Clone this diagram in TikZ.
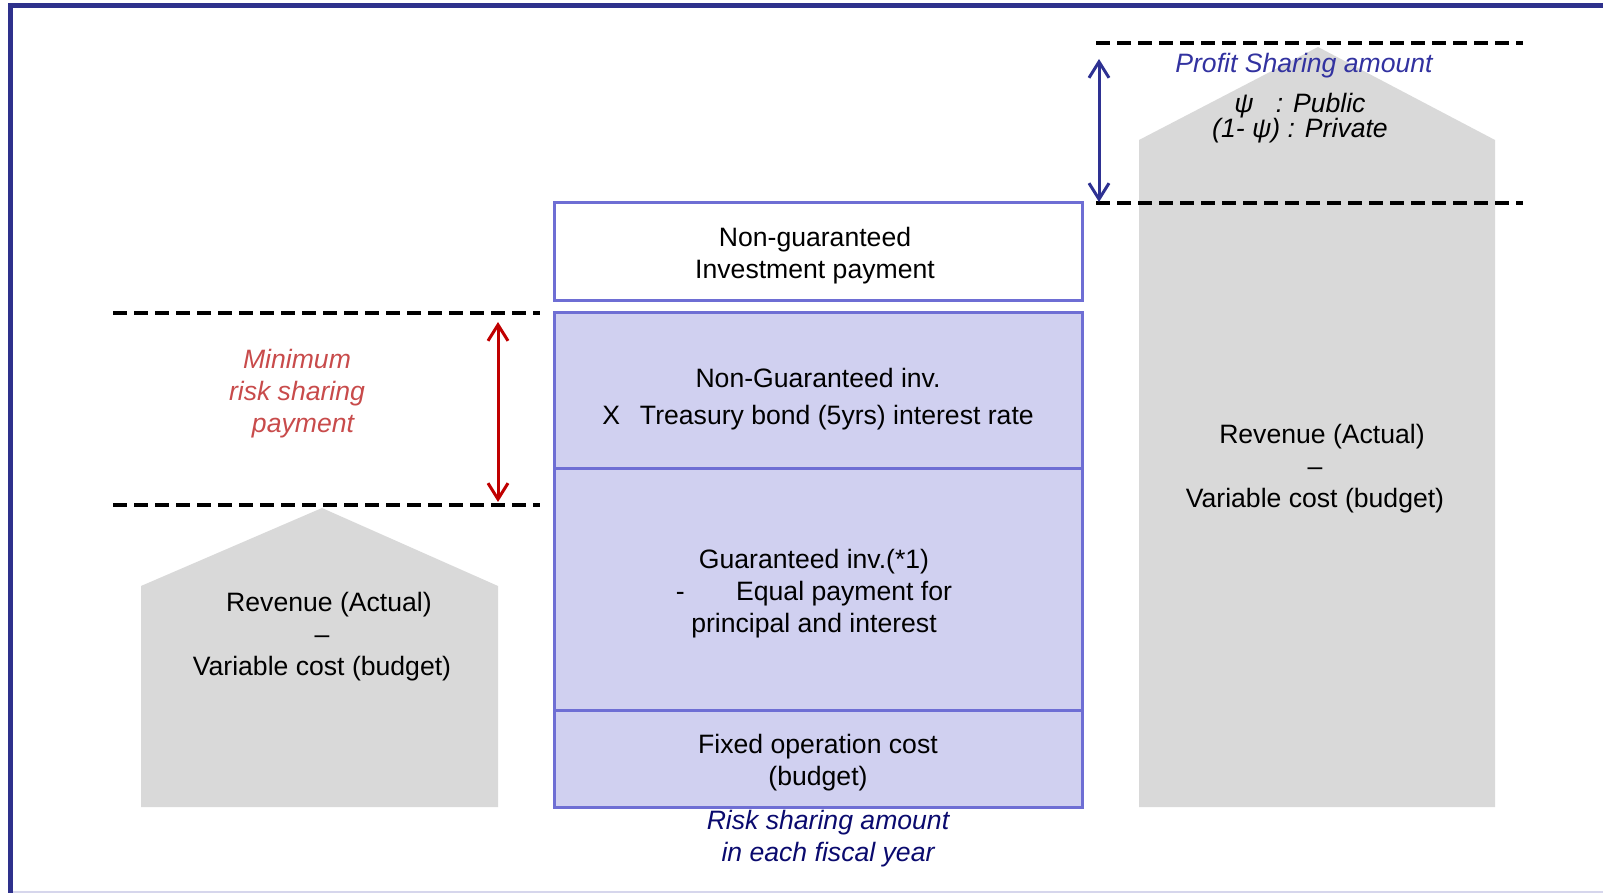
\documentclass[tikz,border=0pt]{standalone}
\usepackage{fontspec}
\setmainfont{Liberation Sans}
\usetikzlibrary{arrows.meta}
\definecolor{framecol}{RGB}{46,49,140}
\definecolor{framefaint}{RGB}{214,214,236}
\definecolor{boxedge}{RGB}{110,110,212}
\definecolor{boxfill}{RGB}{208,208,240}
\definecolor{greyfill}{RGB}{217,217,217}
\definecolor{redarrow}{RGB}{192,0,0}
\definecolor{redtext}{RGB}{200,75,75}
\definecolor{bluearrow}{RGB}{46,49,146}
\definecolor{bluetext}{RGB}{50,50,160}
\definecolor{navytext}{RGB}{10,10,110}
\begin{document}
\begin{tikzpicture}[x=0.5pt,y=-0.5pt,
  every node/.style={font=\fontsize{13.3pt}{16pt}\selectfont, inner sep=0pt, align=center},
  txt/.style={yshift=-1.8pt},
  itxt/.style={yshift=-1.8pt, font=\fontsize{13.3pt}{16pt}\selectfont\itshape},
  stackbox/.style={draw=boxedge, line width=1.5pt, fill=boxfill, minimum width=264pt},
  guide/.style={draw=black, line width=1.6pt, dash pattern=on 7pt off 3.5pt},
  house/.style={fill=greyfill, draw=none},
  span/.style={line width=1.5pt, {Straight Barb[length=8pt,width=10pt]}-{Straight Barb[length=8pt,width=10pt]}},
  framestyle/.style={draw=framecol, line width=2.5pt},
]
\useasboundingbox (0,0) rectangle (1603,893);
% frame
\draw[draw=framefaint, line width=1pt] (13,892) -- (1603,892);
\draw[framestyle] (1603,6) -- (10.5,6) -- (10.5,893);

% grey houses
\fill[house] (141,807) -- (141,586) -- (322,508) -- (498,586) -- (498,807) -- cycle;
\fill[house] (1139,807) -- (1139,140) -- (1318,47) -- (1495,140) -- (1495,807) -- cycle;

% house texts
\node[txt] (revL) at (322,633) {\hspace*{7pt}Revenue (Actual)\\–\\Variable cost (budget)};
\node[txt] (revR) at (1315,465) {\hspace*{7pt}Revenue (Actual)\\–\\Variable cost (budget)};

% stacked boxes
\node[stackbox, fill=white, minimum height=48.75pt] (nginv) at (818,251.75) {};
\node[stackbox, minimum height=78pt] (ngrate) at (818,391) {};
\node[stackbox, minimum height=120.75pt] (ginv) at (818,589.75) {};
\node[stackbox, minimum height=48.5pt] (fixed) at (818,759) {};

\node[txt] (nginvT) at (nginv.center) [xshift=-1.5pt] {Non-guaranteed\\ Investment payment};
\node[txt, yshift=-2.3pt] (ngrateT) at (ngrate.center)
  {Non-Guaranteed inv.\\[2.5pt] X\hspace{10pt}Treasury bond (5yrs) interest rate};
\node[txt] (ginvT) at (ginv.center) [xshift=-2pt]
  {Guaranteed inv.(*1)\\ -\hspace{22pt} Equal payment for\\ principal and interest};
\node[txt] (fixedT) at (fixed.center) {Fixed operation cost\\ (budget)};

\node[itxt, text=navytext] (risk) at (828,835)
  {Risk sharing amount\\ in each fiscal year};

% left guides
\coordinate (lta) at (113,313);
\coordinate (ltb) at (540,313);
\coordinate (lba) at (113,505);
\coordinate (lbb) at (540,505);
\draw[guide] (lta) -- (ltb);
\draw[guide] (lba) -- (lbb);
\coordinate (ra1) at (498,322);
\coordinate (ra2) at (498,502);
\draw[span, draw=redarrow] (ra1) -- (ra2);
\node[itxt, text=redtext] (minrisk) at (297,390)
  {Minimum\\ risk sharing\\ \hspace*{6pt}payment};

% right guides
\coordinate (rta) at (1096,43);
\coordinate (rtb) at (1523,43);
\coordinate (rba) at (1096,203);
\coordinate (rbb) at (1523,203);
\draw[guide] (rta) -- (rtb);
\draw[guide] (rba) -- (rbb);
\coordinate (ba1) at (1099,59);
\coordinate (ba2) at (1099,202);
\draw[span, draw=bluearrow] (ba1) -- (ba2);
\node[itxt, text=bluetext] (profit) at (1304,62)
  {Profit Sharing amount};
\node[itxt, font=\fontsize{13.3pt}{12.5pt}\selectfont\itshape] (share) at (1300,114.5)
  {ψ\hspace{11pt}: Public\\ (1- ψ) : Private};
\end{tikzpicture}
\end{document}
